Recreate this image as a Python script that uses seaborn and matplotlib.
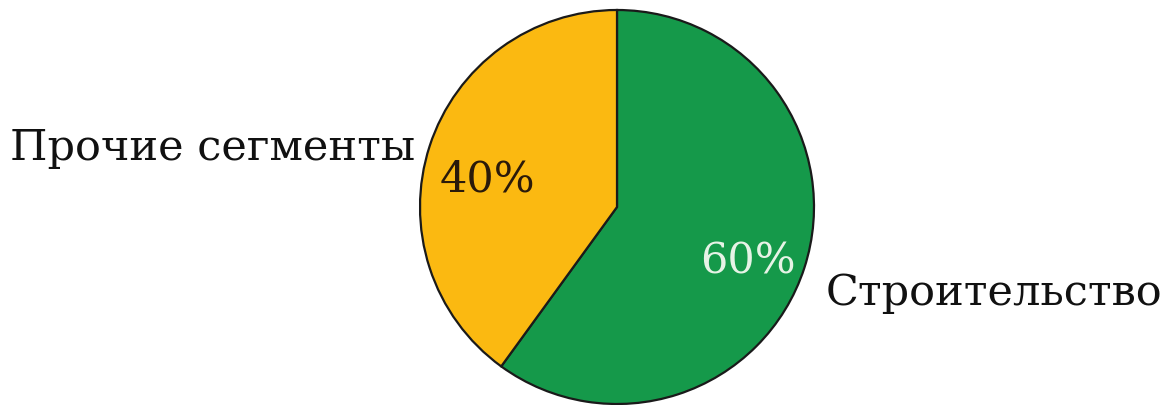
import matplotlib
matplotlib.use("Agg")
import matplotlib.pyplot as plt
import seaborn as sns

# Market share by segment
segments = ["Строительство", "Прочие сегменты"]
shares = [60, 40]
colors = ["#15994a", "#fbb911"]
pct_colors = ["#e6f3e6", "#2a1a0a"]

sns.set_theme(style="white")
plt.rcParams["font.family"] = ["DejaVu Serif", "DejaVu Sans"]

W, H = 1171, 406
fig = plt.figure(figsize=(W / 100, H / 100), dpi=100)
ax = fig.add_axes([0, 0, 1, 1])

cx, cy, r = 617, H - 208, 197
wedges, _ = ax.pie(
    shares,
    colors=colors,
    startangle=90,
    counterclock=False,
    center=(cx, cy),
    radius=r,
    wedgeprops=dict(edgecolor="#1a1a1a", linewidth=1.6),
)
ax.set_xlim(0, W)
ax.set_ylim(0, H)
ax.set_aspect("equal")
ax.axis("off")

fs = 31
# Category names outside the pie
ax.text(10, H - 148, segments[1], fontsize=fs, ha="left", va="center", color="#111111")
ax.text(826, H - 293, segments[0], fontsize=fs, ha="left", va="center", color="#111111")

# Percentage labels inside the slices
ax.text(748, H - 262, f"{shares[0]}%", fontsize=fs, ha="center", va="center", color=pct_colors[0])
ax.text(487, H - 180, f"{shares[1]}%", fontsize=fs, ha="center", va="center", color=pct_colors[1])

fig.savefig("out.png", dpi=100, facecolor="white")
